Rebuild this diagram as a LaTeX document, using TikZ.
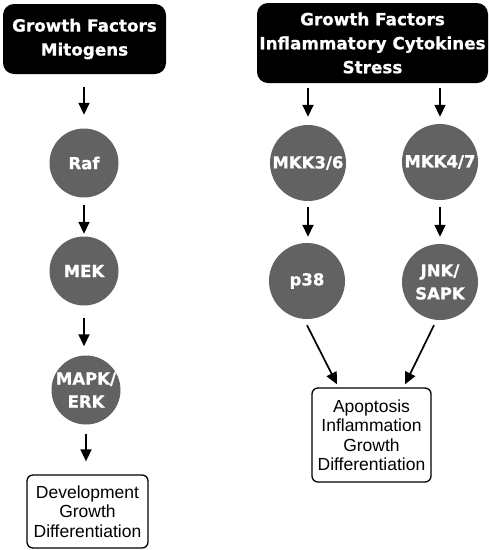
\documentclass[tikz,border=0pt]{standalone}
\usepackage{fontspec}
\setmainfont{Liberation Sans}
\newfontfamily\heavy{DejaVu Sans}[BoldFeatures={FakeBold=0.8}]
\usetikzlibrary{arrows.meta}
\definecolor{kinasegray}{RGB}{98,98,98}

\begin{document}
\begin{tikzpicture}[x=1pt,y=-1pt,
  stimulus/.style={fill=black,rounded corners=11pt,align=center,text=white,
    font=\heavy\bfseries\fontsize{16.8}{24}\selectfont,inner sep=0pt},
  kinase/.style={circle,fill=kinasegray,text=white,align=center,
    font=\heavy\bfseries\fontsize{16.5}{23}\selectfont,inner sep=-4pt},
  outcome/.style={draw,line width=1.3pt,rounded corners=6pt,align=center,
    font=\fontsize{17.5}{19.5}\selectfont,inner sep=0pt},
  flow/.style={-{Triangle[length=12pt,width=11pt]},line width=1.7pt}]

\useasboundingbox (0,0) rectangle (489,550);

\node[stimulus,minimum width=163pt,minimum height=70pt] (gf1) at (84.5,39)
  {Growth Factors\\Mitogens};
\node[stimulus,minimum width=231pt,minimum height=80pt] (gf2) at (372.5,43)
  {Growth Factors\\Inflammatory Cytokines\\Stress};

\node[kinase,minimum size=69pt] (raf)  at (84,163) {Raf};
\node[kinase,minimum size=69pt] (mek)  at (84,271) {MEK};
\node[kinase,minimum size=69pt] (mapk) at (86,390) {MAPK/\\ERK};

\node[kinase,minimum size=76pt] (mkk36) at (308,163) {MKK3/6};
\node[kinase,minimum size=76pt] (mkk47) at (440,162) {MKK4/7};
\node[kinase,minimum size=76pt] (p38)   at (307,281) {p38};
\node[kinase,minimum size=76pt] (jnk)   at (440,282) {JNK/\\SAPK};

\node[outcome,minimum width=121pt,minimum height=73pt] (dev) at (87.5,511.5)
  {Development\\Growth\\Differentiation};
\node[outcome,minimum width=119pt,minimum height=94pt] (apo) at (371.5,435)
  {Apoptosis\\Inflammation\\Growth\\Differentiation};

\draw[flow,shorten <=13pt,shorten >=13.5pt] (raf.north |- gf1.south) -- (raf.north);
\draw[flow,shorten <=7.5pt,shorten >=2.5pt] (raf.south) -- (raf.south |- mek.north);
\draw[flow,shorten <=12.5pt,shorten >=9pt] (mek.south) -- (mek.south |- mapk.north);
\draw[flow,shorten <=9pt,shorten >=13pt] (mapk.south) -- (mapk.south |- dev.north);

\draw[flow,shorten <=5pt,shorten >=8pt] (mkk36.north |- gf2.south) -- (mkk36.north);
\draw[flow,shorten <=5pt,shorten >=7pt] (mkk47.north |- gf2.south) -- (mkk47.north);
\draw[flow,shorten <=6pt,shorten >=6pt] (mkk36.south) -- (mkk36.south |- p38.north);
\draw[flow,shorten <=7pt,shorten >=7pt] (mkk47.south) -- (mkk47.south |- jnk.north);

\draw[flow] ([yshift=-6pt]p38.south) -- ([xshift=-34.5pt,yshift=3pt]apo.north);
\draw[flow] ([xshift=-6pt,yshift=-5pt]jnk.south) -- ([xshift=33.5pt,yshift=3pt]apo.north);

\end{tikzpicture}
\end{document}
